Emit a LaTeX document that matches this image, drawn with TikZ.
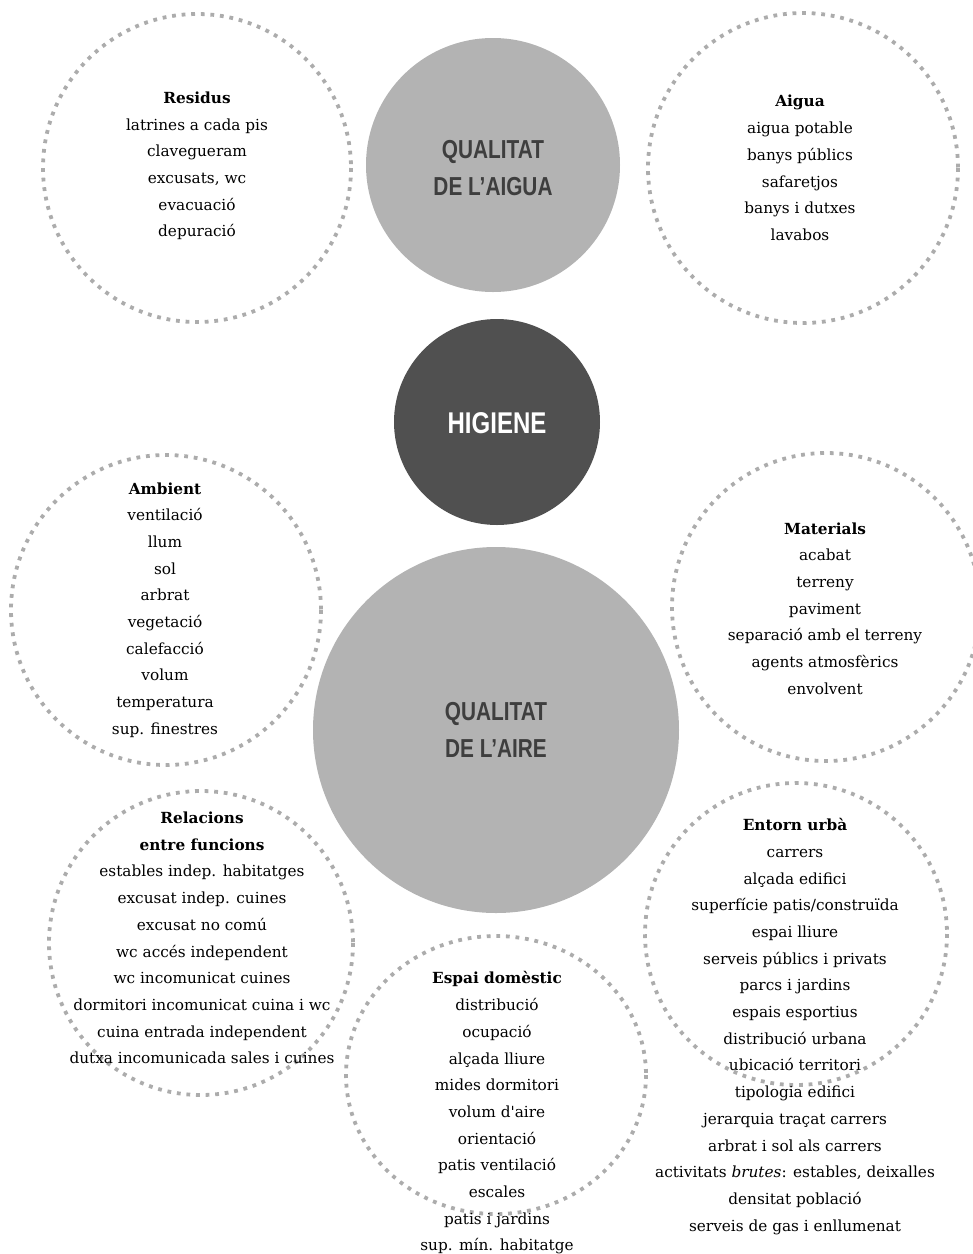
\documentclass[tikz,border=0pt]{standalone}
\usepackage{fontspec}
\newfontfamily\txtfont{DejaVu Serif}
\newfontfamily\condfont[FakeStretch=0.8]{Liberation Sans}
\definecolor{lightdisc}{RGB}{179,179,179}
\definecolor{darkdisc}{RGB}{80,80,80}
\definecolor{disctext}{RGB}{62,62,62}
\definecolor{dotgray}{RGB}{172,172,172}
\tikzset{
  dotring/.style={draw=dotgray, line width=3.8pt, dash pattern=on 3.8pt off 5.8pt},
  lightdiscstyle/.style={fill=lightdisc},
  darkdiscstyle/.style={fill=darkdisc},
  bigtitle/.style={align=center, text=disctext, inner sep=0pt, font={\condfont\bfseries\fontsize{26}{37}\selectfont}},
  hightitle/.style={align=center, text=white, inner sep=0pt, font={\condfont\bfseries\fontsize{30}{36}\selectfont}},
  itemlist/.style={align=center, text=black, inner sep=0pt, font={\txtfont\fontsize{15.3}{26.7}\selectfont}}
}
\begin{document}
\begin{tikzpicture}[x=1pt,y=-1pt]
\useasboundingbox (0,0) rectangle (973,1254);
\begin{scope}
\clip (0,0) rectangle (973,1254);
% filled discs
\fill[lightdiscstyle] (493,165) circle[radius=127];
\fill[darkdiscstyle] (497,422) circle[radius=103];
\fill[lightdiscstyle] (496,730) circle[radius=183];
% dotted rings
\draw[dotring] (197,168) circle[radius=154];
\draw[dotring] (803,168) circle[radius=155];
\draw[dotring] (166,610) circle[radius=155];
\draw[dotring] (826,607) circle[radius=154];
\draw[dotring] (201,943) circle[radius=152];
\draw[dotring] (496,1075) ellipse[x radius=150, y radius=139];
\draw[dotring] (796,934) circle[radius=151];
\end{scope}
% disc titles
\node[bigtitle] (qaigua) at (493,168) {QUALITAT\\DE L’AIGUA};
\node[hightitle] (higiene) at (497,423) {HIGIENE};
\node[bigtitle] (qaire) at (496,730) {QUALITAT\\DE L’AIRE};
% lists
\node[itemlist] (residus) at (197,166) {\textbf{Residus}\\latrines a cada pis\\clavegueram\\excusats, wc\\evacuació\\depuració};
\node[itemlist] (aigua) at (800,168) {\textbf{Aigua}\\aigua potable\\banys públics\\safaretjos\\banys i dutxes\\lavabos};
\node[itemlist] (ambient) at (165,610) {\textbf{Ambient}\\ventilació\\llum\\sol\\arbrat\\vegetació\\calefacció\\volum\\temperatura\\sup. finestres};
\node[itemlist] (materials) at (825,608.5) {\textbf{Materials}\\acabat\\terreny\\paviment\\separació amb el terreny\\agents atmosfèrics\\envolvent};
\node[itemlist] (relacions) at (202,938) {\textbf{Relacions}\\\textbf{entre funcions}\\estables indep. habitatges\\excusat indep. cuines\\excusat no comú\\wc accés independent\\wc incomunicat cuines\\dormitori incomunicat cuina i wc\\cuina entrada independent\\dutxa incomunicada sales i cuines};
\node[itemlist] (espai) at (497,1113) {\textbf{Espai domèstic}\\distribució\\ocupació\\alçada lliure\\mides dormitori\\volum d'aire\\orientació\\patis ventilació\\escales\\patis i jardins\\sup. mín. habitatge};
\node[itemlist] (entorn) at (795,1026.5) {\textbf{Entorn urbà}\\carrers\\alçada edifici\\superfície patis/construïda\\espai lliure\\serveis públics i privats\\parcs i jardins\\espais esportius\\distribució urbana\\ubicació territori\\tipologia edifici\\jerarquia traçat carrers\\arbrat i sol als carrers\\activitats \textit{brutes}: estables, deixalles\\densitat població\\serveis de gas i enllumenat};
\end{tikzpicture}
\end{document}
